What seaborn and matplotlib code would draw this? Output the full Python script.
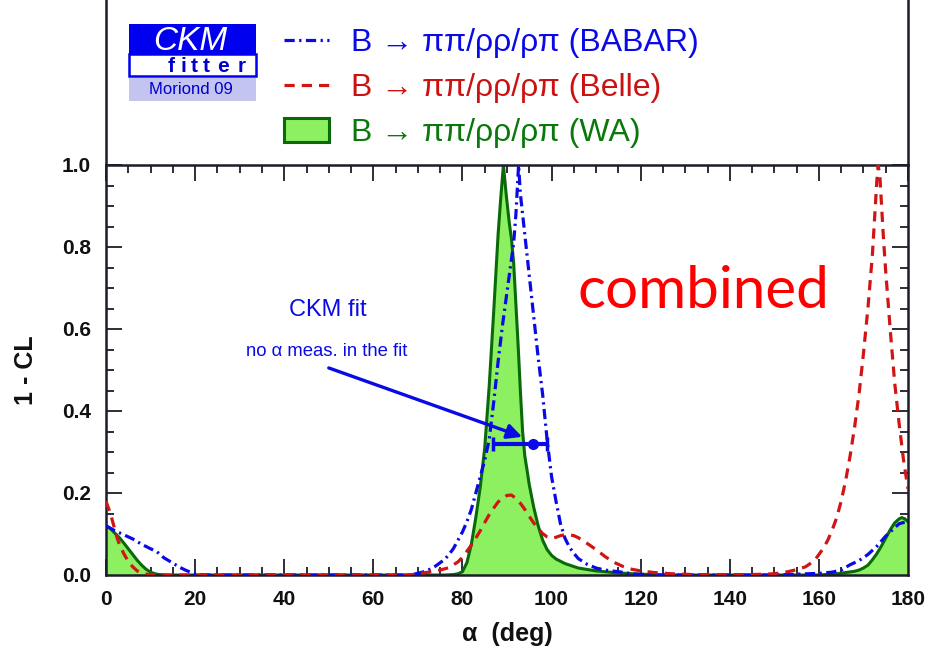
import matplotlib
matplotlib.use("Agg")
import matplotlib.pyplot as plt
import seaborn as sns
import pandas as pd
from matplotlib.lines import Line2D
from matplotlib.patches import Patch, Rectangle
from matplotlib.ticker import MultipleLocator

# ---------------- data ----------------
babar_x = [0, 2, 4, 6, 8, 10, 11.4, 13, 15, 16.5, 18, 20, 22,
           68, 70, 72, 74, 76, 77, 78, 79, 80, 81, 82, 83, 84, 85, 86, 87, 88, 89, 90, 91, 91.5, 92, 92.6,
           93, 94, 95, 96, 97, 98, 99, 100, 101, 102, 103, 104, 105, 106, 108, 110, 112, 115, 119, 124,
           150, 155, 160, 163, 165, 167, 169, 171, 173, 175, 177, 178, 179, 180]
babar_y = [0.12, 0.108, 0.098, 0.088, 0.075, 0.064, 0.057, 0.042, 0.029, 0.019, 0.011, 0.003, 0.0,
           0.0, 0.004, 0.01, 0.022, 0.038, 0.05, 0.065, 0.085, 0.105, 0.13, 0.16, 0.2, 0.24, 0.28, 0.33, 0.42, 0.52, 0.61, 0.69, 0.77, 0.81, 0.88, 1.0,
           0.93, 0.83, 0.73, 0.63, 0.53, 0.44, 0.33, 0.24, 0.18, 0.125, 0.09, 0.068, 0.053, 0.04, 0.026, 0.017, 0.012, 0.008, 0.002, 0.0,
           0.0, 0.002, 0.004, 0.007, 0.012, 0.025, 0.035, 0.05, 0.07, 0.095, 0.115, 0.125, 0.128, 0.13]

belle_x = [0, 0.5, 1, 1.5, 2, 2.5, 3, 4, 5, 6, 7, 8, 9, 11,
           68, 70, 73, 75, 77, 79, 80, 81, 82, 83, 84, 85, 86, 87, 88, 89, 90, 91, 92, 93, 94, 95, 96, 97, 98, 99,
           100, 101, 102, 103, 104, 105, 106, 108, 110, 112, 114, 116, 118, 120, 123, 127, 132, 140, 145,
           150, 153, 155, 157, 159, 160, 161, 162, 163, 164, 165, 166, 167, 168, 169, 170, 171, 172, 172.5, 173, 173.3,
           173.7, 174.5, 175, 176, 177, 178, 179, 180]
belle_y = [0.18, 0.165, 0.15, 0.13, 0.11, 0.09, 0.075, 0.052, 0.033, 0.02, 0.01, 0.005, 0.002, 0.0,
           0.0, 0.003, 0.008, 0.012, 0.018, 0.032, 0.043, 0.058, 0.073, 0.09, 0.108, 0.128, 0.147, 0.163, 0.178, 0.188, 0.194, 0.195, 0.187, 0.175, 0.16, 0.143, 0.127, 0.113, 0.101, 0.093,
           0.09, 0.092, 0.096, 0.098, 0.098, 0.096, 0.091, 0.077, 0.062, 0.045, 0.031, 0.021, 0.014, 0.01, 0.006, 0.003, 0.001, 0.001, 0.001,
           0.003, 0.008, 0.013, 0.02, 0.035, 0.05, 0.065, 0.085, 0.11, 0.14, 0.18, 0.23, 0.29, 0.36, 0.44, 0.54, 0.65, 0.78, 0.87, 0.96, 1.0,
           0.97, 0.82, 0.74, 0.6, 0.47, 0.37, 0.28, 0.21]

wa_x = [0, 1, 2, 3, 4, 5, 6, 7, 8, 9, 10, 11, 12, 14,
        76, 78, 79, 80, 81, 82, 83, 84, 85, 86, 87, 88, 88.6, 89.2,
        89.8, 90.5, 91, 91.5, 92, 92.5, 93, 93.5, 94, 94.5, 95, 96, 97, 98, 99, 100, 101, 103, 106, 110, 115, 120, 125,
        160, 164, 166, 168, 169, 170, 171, 172, 173, 174, 175, 176, 177, 178, 178.6, 179.3, 180]
wa_y = [0.12, 0.113, 0.102, 0.091, 0.078, 0.064, 0.05, 0.036, 0.024, 0.014, 0.007, 0.003, 0.001, 0.0,
        0.0, 0.001, 0.003, 0.008, 0.03, 0.075, 0.14, 0.215, 0.31, 0.46, 0.64, 0.83, 0.92, 1.0,
        0.93, 0.86, 0.82, 0.76, 0.66, 0.56, 0.45, 0.35, 0.29, 0.256, 0.22, 0.165, 0.12, 0.085, 0.062, 0.048, 0.039, 0.028, 0.017, 0.01, 0.005, 0.002, 0.0,
        0.0, 0.003, 0.006, 0.009, 0.012, 0.017, 0.024, 0.037, 0.052, 0.07, 0.09, 0.11, 0.127, 0.137, 0.14, 0.137, 0.13]

ckm_fit_alpha = [95.8]
ckm_fit_level = [0.32]
ckm_fit_err_low = [9.0]
ckm_fit_err_high = [3.1]

legend_labels = ["B \u2192 \u03c0\u03c0/\u03c1\u03c1/\u03c1\u03c0 (BABAR)",
                 "B \u2192 \u03c0\u03c0/\u03c1\u03c1/\u03c1\u03c0 (Belle)",
                 "B \u2192 \u03c0\u03c0/\u03c1\u03c1/\u03c1\u03c0 (WA)"]
x_ticks = [0, 20, 40, 60, 80, 100, 120, 140, 160, 180]
y_ticks = [0.0, 0.2, 0.4, 0.6, 0.8, 1.0]

# ---------------- style ----------------
sns.set_style("ticks")
plt.rcParams["font.family"] = ["Liberation Sans", "DejaVu Sans"]

BLUE = "#0a0ae6"
RED = "#d01515"
GREEN_FILL = "#8cf060"
GREEN_LINE = "#0a6a0a"
GREEN_TEXT = "#0a780a"
FRAME = "#1c1c2a"

W, H = 927, 657
fig = plt.figure(figsize=(W / 100, H / 100), dpi=100)
fig.patch.set_facecolor("white")

L, R, T, B = 106, 908, 165, 575
ax = fig.add_axes([L / W, (H - B) / H, (R - L) / W, (B - T) / H])
top = fig.add_axes([L / W, (H - T) / H, (R - L) / W, T / H])

df_babar = pd.DataFrame({"alpha": babar_x, "cl": babar_y})
df_belle = pd.DataFrame({"alpha": belle_x, "cl": belle_y})
df_wa = pd.DataFrame({"alpha": wa_x, "cl": wa_y})

ax.fill_between(df_wa["alpha"], df_wa["cl"], 0, color=GREEN_FILL, lw=0, zorder=1)
sns.lineplot(data=df_wa, x="alpha", y="cl", ax=ax, color=GREEN_LINE, lw=2.2,
             sort=False, estimator=None, zorder=2)
l_babar = sns.lineplot(data=df_babar, x="alpha", y="cl", ax=ax, color=BLUE, lw=2.3,
                       sort=False, estimator=None, zorder=3).lines[-1]
l_babar.set_dashes((3.2, 1.4, 0.7, 1.4))
l_belle = sns.lineplot(data=df_belle, x="alpha", y="cl", ax=ax, color=RED, lw=2.3,
                       sort=False, estimator=None, zorder=3).lines[-1]
l_belle.set_dashes((3.2, 2.2))

# CKM fit error bar and arrow
ax.errorbar(ckm_fit_alpha, ckm_fit_level, xerr=[ckm_fit_err_low, ckm_fit_err_high],
            fmt="o", color=BLUE, ms=7, lw=3, capsize=5, capthick=2.5, zorder=5)
ax.annotate("", xy=(93.4, 0.337), xytext=(50.0, 0.505),
            arrowprops=dict(arrowstyle="-|>", color=BLUE, lw=2.4, mutation_scale=22,
                            shrinkA=0, shrinkB=0), zorder=5)
ax.text(49.8, 0.646, "CKM fit", color=BLUE, fontsize=17, ha="center", va="center")
ax.text(49.6, 0.546, "no \u03b1 meas. in the fit", color=BLUE, fontsize=13.3,
        ha="center", va="center")
ax.text(134.2, 0.651, "combined", color="#ff0000", fontsize=42, ha="center",
        va="baseline", family=["Lato", "DejaVu Sans"])

ax.set_xlim(0, 180)
ax.set_ylim(0, 1.0)
ax.set_xticks(x_ticks)
ax.set_yticks(y_ticks)
ax.set_xticklabels([str(v) for v in x_ticks])
ax.set_yticklabels([f"{v:.1f}" for v in y_ticks])
ax.xaxis.set_minor_locator(MultipleLocator(5))
ax.yaxis.set_minor_locator(MultipleLocator(0.05))
ax.tick_params(which="both", direction="in", top=True, right=True, color=FRAME, width=1.3)
ax.tick_params(which="major", length=11.5, pad=11)
ax.tick_params(which="minor", length=6)
for lab in ax.get_xticklabels() + ax.get_yticklabels():
    lab.set_fontweight("bold")
    lab.set_fontsize(15)
    lab.set_color("#111111")
for s in ax.spines.values():
    s.set_color(FRAME)
    s.set_linewidth(1.8)
ax.set_xlabel("\u03b1  (deg)", fontsize=18, fontweight="bold", labelpad=9, color="#111111")
ax.set_ylabel("1 - CL", fontsize=18, fontweight="bold", labelpad=17, color="#111111")

# top (legend) panel
top.set_xlim(L, R)
top.set_ylim(T, 0)
top.set_xticks([])
top.set_yticks([])
top.spines["top"].set_visible(False)
top.spines["bottom"].set_visible(False)
for side in ("left", "right"):
    top.spines[side].set_color(FRAME)
    top.spines[side].set_linewidth(1.8)
top.patch.set_alpha(0)

# CKMfitter logo
top.add_patch(Rectangle((129, 24), 127, 30, facecolor="#0000ee", edgecolor="none"))
top.add_patch(Rectangle((129, 54), 127, 22, facecolor="white", edgecolor="#0000ee", lw=1.8))
top.add_patch(Rectangle((129, 78), 127, 23, facecolor="#c4c4f0", edgecolor="none"))
top.text(190, 41, "CKM", color="white", fontsize=24, style="italic", ha="center", va="center")
for ch, cx in zip("fitter", [171.5, 183, 194.5, 206.5, 223, 241.5]):
    top.text(cx, 66, ch, color="#0000cc", fontsize=15, fontweight="bold", ha="center", va="center")
top.text(191, 90, "Moriond 09", color="#0000cc", fontsize=12, ha="center", va="center")

# legend
handles = [Line2D([], [], color=BLUE, lw=2.3, dashes=(3.2, 1.4, 0.7, 1.4)),
           Line2D([], [], color=RED, lw=2.3, dashes=(3.2, 2.2)),
           Patch(facecolor=GREEN_FILL, edgecolor=GREEN_LINE, lw=2.2)]
fig.legend(handles, legend_labels, loc="upper left",
           bbox_to_anchor=(284 / W, 1 - 28 / H), bbox_transform=fig.transFigure,
           frameon=False, fontsize=23, labelcolor=[BLUE, "#cc1111", GREEN_TEXT],
           handlelength=1.42, handleheight=0.75, handletextpad=0.68, labelspacing=0.47,
           borderpad=0, borderaxespad=0)

fig.savefig("out.png", dpi=100)
